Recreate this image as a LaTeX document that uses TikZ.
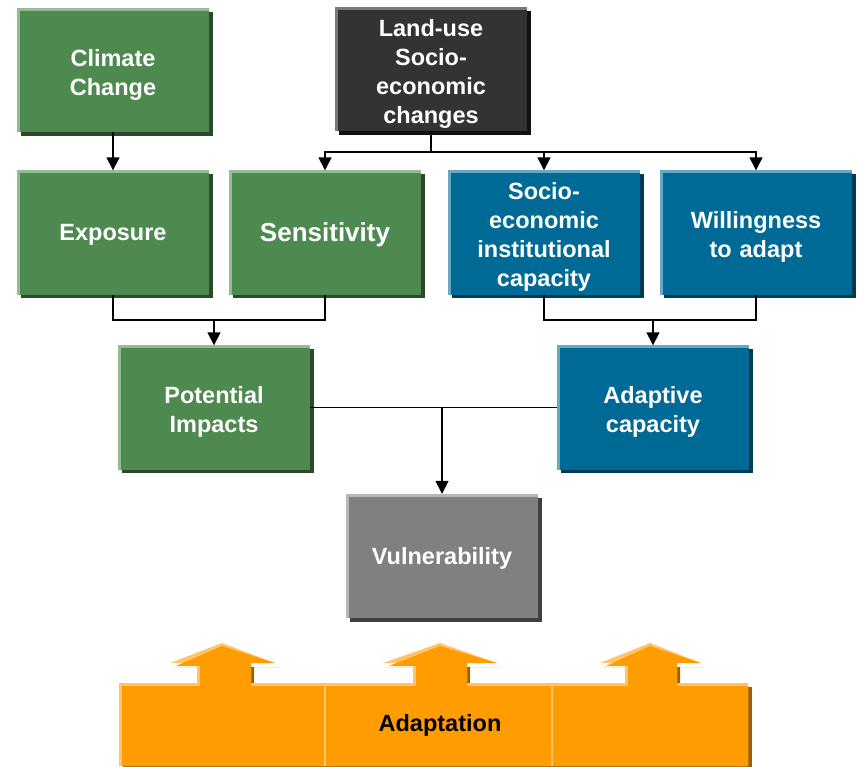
\documentclass[tikz,border=0pt]{standalone}
\usepackage{fontspec}
\setmainfont{Liberation Sans}
\usetikzlibrary{arrows.meta,shadows}
\definecolor{gmain}{HTML}{4E8A50}
\definecolor{glight}{HTML}{93BC94}
\definecolor{gdark}{HTML}{2B4A2C}
\definecolor{kmain}{HTML}{333333}
\definecolor{klight}{HTML}{7A7A7A}
\definecolor{kdark}{HTML}{111111}
\definecolor{bmain}{HTML}{006A96}
\definecolor{blight}{HTML}{6AA7C2}
\definecolor{bdark}{HTML}{003B55}
\definecolor{vmain}{HTML}{808080}
\definecolor{vlight}{HTML}{B8B8B8}
\definecolor{vdark}{HTML}{404040}
\definecolor{omain}{HTML}{FF9C00}
\definecolor{olight}{HTML}{FFC46A}
\definecolor{odark}{HTML}{9A6200}
\tikzset{
  boxbase/.style={minimum width=192pt, minimum height=124pt, inner sep=0pt,
    text width=180pt, align=center, text=white,
    font=\bfseries\fontsize{23.5}{29}\selectfont,
    execute at end node={\par\vspace*{-9pt}}},
  gbox/.style={boxbase, fill=gmain, drop shadow={shadow xshift=3.5pt, shadow yshift=-3.5pt, fill=gdark, opacity=1}},
  kbox/.style={boxbase, fill=kmain, drop shadow={shadow xshift=3.5pt, shadow yshift=-3.5pt, fill=kdark, opacity=1}},
  bbox/.style={boxbase, fill=bmain, drop shadow={shadow xshift=3.5pt, shadow yshift=-3.5pt, fill=bdark, opacity=1}},
  vbox/.style={boxbase, fill=vmain, drop shadow={shadow xshift=3.5pt, shadow yshift=-3.5pt, fill=vdark, opacity=1}},
  conn/.style={line width=1.5pt, black},
  arr/.style={conn, -{Triangle[length=13pt,width=13pt]}},
}
\newcommand\litedges[2]{\draw[#2, line width=3pt] ([xshift=1.5pt]#1.south west) -- ([xshift=1.5pt,yshift=-1.5pt]#1.north west) -- ([yshift=-1.5pt]#1.north east);}
\begin{document}
\begin{tikzpicture}[x=1pt,y=-1pt]
\useasboundingbox (0,0) rectangle (857,766);
% boxes
\node[gbox] (cc) at (113,70) {Climate\\Change};
\node[kbox] (lu) at (431,69) {Land-use\\Socio-\\economic\\changes};
\node[gbox] (exp) at (113,232.5) {Exposure};
\node[gbox, font=\bfseries\fontsize{26}{30}\selectfont] (sen) at (325,232.5) {Sensitivity};
\node[bbox] (sei) at (544,232.5) {Socio-\\economic\\institutional\\capacity};
\node[bbox] (wil) at (756,232.5) {Willingness\\to adapt};
\node[gbox] (pi) at (214,407.5) {Potential\\Impacts};
\node[bbox] (ac) at (653,407.5) {Adaptive\\capacity};
\node[vbox] (vul) at (442,556) {Vulnerability};
\litedges{cc}{glight}
\litedges{lu}{klight}
\litedges{exp}{glight}
\litedges{sen}{glight}
\litedges{sei}{blight}
\litedges{wil}{blight}
\litedges{pi}{glight}
\litedges{ac}{blight}
\litedges{vul}{vlight}
% connectors
\draw[arr] (cc) -- (exp);
\coordinate (j1) at (431,152);
\draw[conn] (lu.south) -- (j1);
\draw[arr] (j1) -| (sen.north);
\draw[arr] (j1) -| (sei.north);
\draw[arr] (j1) -| (wil.north);
\coordinate (j2) at (214,320);
\draw[conn] (exp.south) |- (j2) -| (sen.south);
\draw[arr] (j2) -- (pi.north);
\coordinate (j3) at (653,320);
\draw[conn] (sei.south) |- (j3) -| (wil.south);
\draw[arr] (j3) -- (ac.north);
\coordinate (j4) at (442,408);
\draw[conn] (pi.east) -- (ac.west);
\draw[arr] (j4) -- (vul.north);
% adaptation
\fill[odark] (123,687) -- (752,687) -- (752,770) -- (123,770) -- cycle;
\foreach \c/\hl/\hr/\sl/\sr in {222/170/275/197/251, 440/383/497/413/467, 650/600/701/625/677}{
  \fill[odark] (\hl+4,667) -- (\sl+3,667) -- (\sl+3,687) -- (\sr+3,687) -- (\sr+3,667) -- (\hr+4,667) -- cycle;
}
\fill[olight] (119,766) -- (119,683)
  -- (197,683) -- (197,663) -- (170,663) -- (222,643) -- (275,663) -- (251,663) -- (251,683)
  -- (413,683) -- (413,663) -- (383,663) -- (440,643) -- (497,663) -- (467,663) -- (467,683)
  -- (625,683) -- (625,663) -- (600,663) -- (650,643) -- (701,663) -- (677,663) -- (677,683)
  -- (748,683) -- (748,766) -- cycle;
\fill[omain] (122,766) -- (122,686)
  -- (200,686) -- (200,666) -- (176,666) -- (222,646) -- (275,663) -- (251,663) -- (251,686)
  -- (416,686) -- (416,666) -- (389,666) -- (440,646) -- (497,663) -- (467,663) -- (467,686)
  -- (628,686) -- (628,666) -- (606,666) -- (650,646) -- (701,663) -- (677,663) -- (677,686)
  -- (748,686) -- (748,766) -- cycle;
\draw[olight, line width=2pt] (325,686) -- (325,766);
\draw[olight, line width=2pt] (552,686) -- (552,766);
\node[font=\bfseries\fontsize{23.5}{29}\selectfont, text=black] (adapt) at (440,725) {Adaptation};
\end{tikzpicture}
\end{document}
